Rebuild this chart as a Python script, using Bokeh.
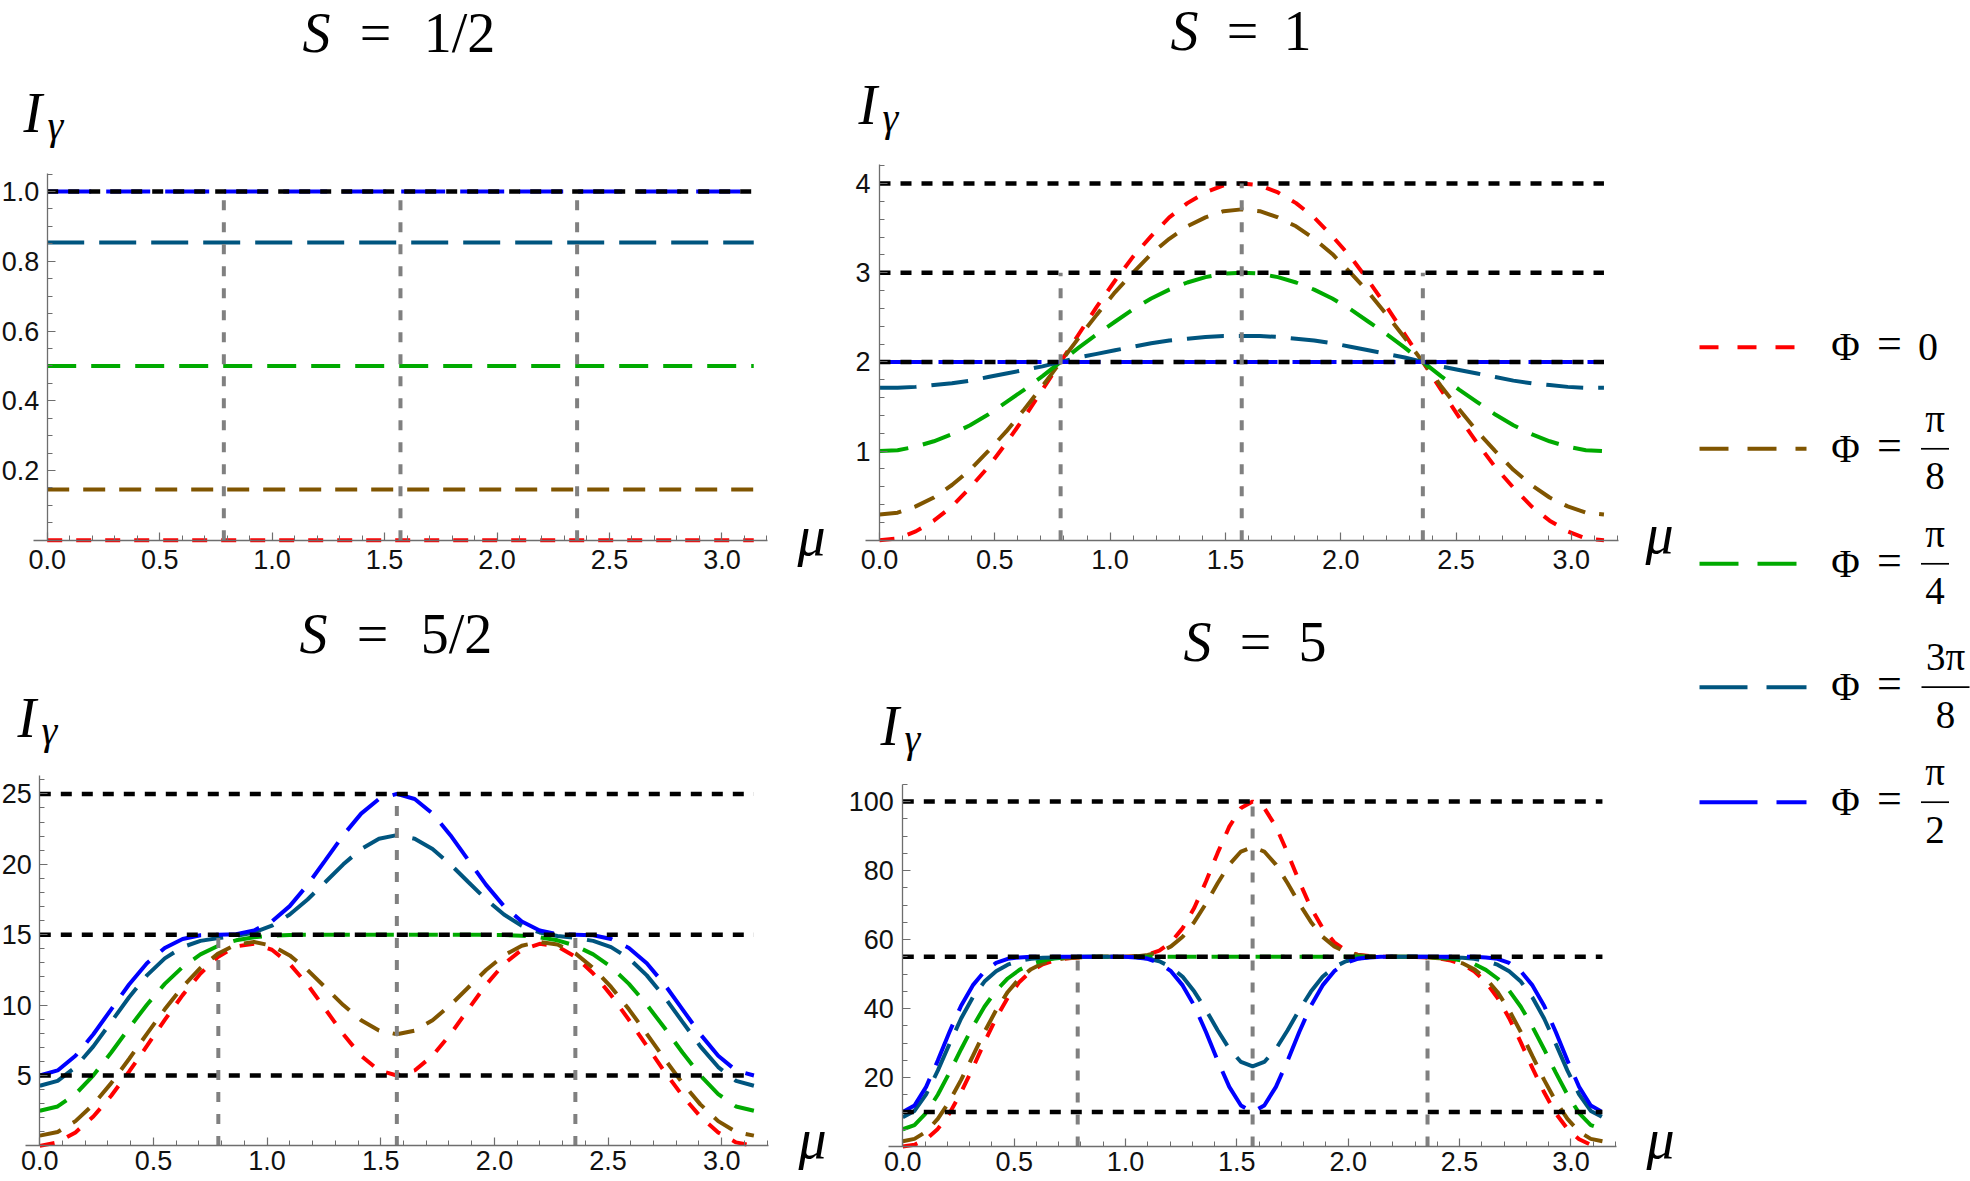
import numpy as np
from bokeh.plotting import figure
from bokeh.models import Label, Range1d, FixedTicker, NumeralTickFormatter
from bokeh.layouts import row, column
from bokeh.core.properties import value
from bokeh.embed import file_html
from bokeh.resources import INLINE

PI = np.pi
# ---------------- data ----------------
MU_FLAT = [0.0, PI]
MU40 = np.linspace(0, PI, 41)
MU60 = np.linspace(0, PI, 61)

# S = 1/2 (constant curves)
S12_r = [0.0, 0.0]
S12_b = [0.146, 0.146]
S12_g = [0.5, 0.5]
S12_t = [0.854, 0.854]
S12_u = [1.0, 1.0]

# S = 1
S1_r = [0.00,0.02,0.10,0.22,0.38,0.59,0.82,1.09,1.38,1.69,2.00,2.31,2.62,2.91,3.18,3.41,3.62,3.78,3.90,3.98,4.00,
        3.98,3.90,3.78,3.62,3.41,3.18,2.91,2.62,2.31,2.00,1.69,1.38,1.09,0.82,0.59,0.38,0.22,0.10,0.02,0.00]
S1_b = [0.29,0.31,0.38,0.48,0.62,0.79,1.00,1.22,1.47,1.73,2.00,2.27,2.53,2.78,3.00,3.21,3.38,3.52,3.62,3.69,3.71,
        3.69,3.62,3.52,3.38,3.21,3.00,2.78,2.53,2.27,2.00,1.73,1.47,1.22,1.00,0.79,0.62,0.48,0.38,0.31,0.29]
S1_g = [1.00,1.01,1.05,1.11,1.19,1.29,1.41,1.55,1.69,1.84,2.00,2.16,2.31,2.45,2.59,2.71,2.81,2.89,2.95,2.99,3.00,
        2.99,2.95,2.89,2.81,2.71,2.59,2.45,2.31,2.16,2.00,1.84,1.69,1.55,1.41,1.29,1.19,1.11,1.05,1.01,1.00]
S1_t = [1.71,1.71,1.72,1.74,1.76,1.79,1.83,1.87,1.91,1.95,2.00,2.05,2.09,2.13,2.17,2.21,2.24,2.26,2.28,2.29,2.29,
        2.29,2.28,2.26,2.24,2.21,2.17,2.13,2.09,2.05,2.00,1.95,1.91,1.87,1.83,1.79,1.76,1.74,1.72,1.71,1.71]
S1_u = [2.0, 2.0]

# S = 5/2
S52_r = [0.00,0.25,0.96,2.09,3.56,5.27,7.10,8.95,10.71,12.24,13.44,14.17,14.35,13.93,12.92,11.45,9.70,7.93,6.40,5.36,5.00,
         5.36,6.40,7.93,9.70,11.45,12.92,13.93,14.35,14.17,13.44,12.24,10.71,8.95,7.10,5.27,3.56,2.09,0.96,0.25,0.00]
S52_b = [0.73,0.99,1.76,2.95,4.46,6.17,7.96,9.70,11.29,12.64,13.67,14.30,14.49,14.22,13.53,12.49,11.25,10.00,8.92,8.19,7.93,
         8.19,8.92,10.00,11.25,12.49,13.53,14.22,14.49,14.30,13.67,12.64,11.29,9.70,7.96,6.17,4.46,2.95,1.76,0.99,0.73]
S52_g = [2.50,2.80,3.68,5.01,6.63,8.37,10.03,11.51,12.71,13.60,14.22,14.60,14.82,14.93,14.98,14.99,15.00,15.00,15.00,15.00,15.00,
         15.00,15.00,15.00,15.00,14.99,14.98,14.93,14.82,14.60,14.22,13.60,12.71,11.51,10.03,8.37,6.63,5.01,3.68,2.80,2.50]
S52_t = [4.27,4.62,5.60,7.07,8.81,10.56,12.11,13.32,14.12,14.56,14.77,14.91,15.16,15.64,16.43,17.50,18.74,20.00,21.08,21.81,22.07,
         21.81,21.08,20.00,18.74,17.50,16.43,15.64,15.16,14.91,14.77,14.56,14.12,13.32,12.11,10.56,8.81,7.07,5.60,4.62,4.27]
S52_u = [5.00,5.36,6.40,7.93,9.70,11.46,12.97,14.06,14.70,14.96,15.00,15.04,15.30,15.94,17.03,18.54,20.30,22.07,23.60,24.64,25.00,
         24.64,23.60,22.07,20.30,18.54,17.03,15.94,15.30,15.04,15.00,14.96,14.70,14.06,12.97,11.46,9.70,7.93,6.40,5.36,5.00]

# S = 5
S5_r = [0.0,0.5,2.1,5.1,9.6,15.7,22.7,30.2,37.2,43.1,47.7,50.8,52.8,53.9,54.5,54.8,54.9,55.0,55.0,55.0,55.2,
        55.6,56.8,59.2,63.3,69.2,76.8,85.1,92.7,98.1,100.0,98.1,92.7,85.1,76.8,69.2,63.3,59.2,56.8,55.6,55.2,55.0,
        55.0,55.0,54.9,54.8,54.5,53.9,52.8,50.8,47.7,43.1,37.2,30.2,22.7,15.7,9.6,5.1,2.1,0.5,0.0]
S5_b = [1.5,2.2,4.3,8.0,13.1,19.3,26.2,33.2,39.5,44.8,48.7,51.4,53.1,54.1,54.6,54.8,54.9,55.0,55.0,55.0,55.1,
        55.5,56.3,58.0,60.8,65.1,70.4,76.3,81.7,85.5,86.8,85.5,81.7,76.3,70.4,65.1,60.8,58.0,56.3,55.5,55.1,55.0,
        55.0,55.0,54.9,54.8,54.6,54.1,53.1,51.4,48.7,44.8,39.5,33.2,26.2,19.3,13.1,8.0,4.3,2.2,1.5]
S5_g = [5.0,6.2,9.7,15.0,21.4,28.2,34.7,40.5,45.2,48.7,51.2,52.9,53.9,54.5,54.8,54.9,55.0,55.0,55.0,55.0,55.0,
        55.0,55.0,55.0,55.0,55.0,55.0,55.0,55.0,55.0,55.0,55.0,55.0,55.0,55.0,55.0,55.0,55.0,55.0,55.0,55.0,55.0,
        55.0,55.0,55.0,54.9,54.8,54.5,53.9,52.9,51.2,48.7,45.2,40.5,34.7,28.2,21.4,15.0,9.7,6.2,5.0]
S5_t = [8.5,10.3,15.1,22.0,29.7,37.1,43.2,47.8,50.8,52.7,53.8,54.4,54.7,54.8,54.9,55.0,55.0,55.0,55.0,55.0,54.9,
        54.5,53.7,52.0,49.2,44.9,39.6,33.7,28.3,24.5,23.2,24.5,28.3,33.7,39.6,44.9,49.2,52.0,53.7,54.5,54.9,55.0,
        55.0,55.0,55.0,55.0,54.9,54.8,54.7,54.4,53.8,52.7,50.8,47.8,43.2,37.1,29.7,22.0,15.1,10.3,8.5]
S5_u = [10.0,11.9,17.3,24.9,33.2,40.8,46.7,50.8,53.2,54.4,54.8,55.0,55.0,55.0,55.0,55.0,55.0,55.0,55.0,55.0,54.8,
        54.4,53.2,50.8,46.7,40.8,33.2,24.9,17.3,11.9,10.0,11.9,17.3,24.9,33.2,40.8,46.7,50.8,53.2,54.4,54.8,55.0,
        55.0,55.0,55.0,55.0,55.0,55.0,55.0,55.0,54.8,54.4,53.2,50.8,46.7,40.8,33.2,24.9,17.3,11.9,10.0]

# reference levels (black dotted) and vertical guides (grey dashed)
LEV_S12 = [1.0]
LEV_S1 = [2.0, 3.0, 4.0]
LEV_S52 = [5.0, 15.0, 25.0]
LEV_S5 = [10.0, 55.0, 100.0]
GUIDE_X = [PI/4, PI/2, 3*PI/4]
GUIDE_TOP_S12 = [1.0, 1.0, 1.0]
GUIDE_TOP_S1 = [3.0, 4.0, 3.0]
GUIDE_TOP_S52 = [15.0, 25.0, 15.0]
GUIDE_TOP_S5 = [55.0, 100.0, 55.0]

# ticks
X_TICKS = [0.0, 0.5, 1.0, 1.5, 2.0, 2.5, 3.0]
X_LABELS = ["0.0", "0.5", "1.0", "1.5", "2.0", "2.5", "3.0"]
X_MINOR = [round(0.1*k, 1) for k in range(33)]
Y_TICKS_S12 = [0.2, 0.4, 0.6, 0.8, 1.0]
Y_LABELS_S12 = ["0.2", "0.4", "0.6", "0.8", "1.0"]
Y_MINOR_S12 = [round(0.05*k, 2) for k in range(22)]
Y_TICKS_S1 = [1, 2, 3, 4]
Y_LABELS_S1 = ["1", "2", "3", "4"]
Y_MINOR_S1 = [round(0.2*k, 1) for k in range(22)]
Y_TICKS_S52 = [5, 10, 15, 20, 25]
Y_LABELS_S52 = ["5", "10", "15", "20", "25"]
Y_MINOR_S52 = list(range(27))
Y_TICKS_S5 = [20, 40, 60, 80, 100]
Y_LABELS_S5 = ["20", "40", "60", "80", "100"]
Y_MINOR_S5 = list(range(0, 106, 5))

LEGEND_NUM = ["0", "π", "π", "3π", "π"]
LEGEND_DEN = ["", "8", "4", "8", "2"]

COLORS = ["#ff0000", "#805500", "#00aa00", "#00557f", "#0000ff"]
DASHES = ["15 14", "22 14", "29 15", "37 15", "44 15"]
LEG_DASHES = ["19 19", "29 19", "39 19", "48 19", "58 19"]
SERIF = "Liberation Serif"
SANS = "Liberation Sans"
AXIS_GRAY = "#6e6e6e"
XMAX = 3.2044
BASE_FIX = 0.35   # shift so that the given y is the glyph baseline


def panel(ox, oy, w, h, X0, ux, Y0, uy, ymax, yt, ylab, ymin_t, series, mu, levels,
          guide_top, title, title_pos, ylab_pos, mu_pos, xstand, ystand, yfmt):
    xr = Range1d((ox - X0) / ux, (ox + w - X0) / ux)
    yr = Range1d((Y0 - (oy + h)) / uy, (Y0 - oy) / uy)
    p = figure(width=w, height=h, x_range=xr, y_range=yr,
               toolbar_location=None, output_backend="svg",
               min_border=0, min_border_left=0, min_border_right=0,
               min_border_top=0, min_border_bottom=0)
    p.outline_line_color = None
    p.xgrid.visible = False
    p.ygrid.visible = False
    p.background_fill_color = "white"
    p.border_fill_color = "white"
    for (xs, ys), c, d in zip(zip(mu, series), COLORS, DASHES):
        p.line(xs, ys, line_color=c, line_width=4, line_dash=d)
    p.multi_line([[0.0, PI] for _ in levels], [[lv, lv] for lv in levels],
                 line_color="black", line_width=4.5, line_dash="11 10")
    p.multi_line([[gx, gx] for gx in GUIDE_X], [[0.0, gt] for gt in guide_top],
                 line_color="#808080", line_width=4, line_dash="10 12")
    xa, ya = p.xaxis[0], p.yaxis[0]
    xa.fixed_location = 0
    ya.fixed_location = 0
    xa.bounds = (-14.0 / ux, XMAX)
    ya.bounds = (0, ymax)
    xa.ticker = FixedTicker(ticks=X_TICKS, minor_ticks=X_MINOR)
    xa.formatter = NumeralTickFormatter(format="0.0")
    xa.major_label_overrides = {t: l for t, l in zip(X_TICKS, X_LABELS)}
    ya.ticker = FixedTicker(ticks=yt, minor_ticks=ymin_t)
    if yfmt:
        ya.formatter = NumeralTickFormatter(format=yfmt)
    ya.major_label_overrides = {t: l for t, l in zip(yt, ylab)}
    for ax in (xa, ya):
        ax.axis_line_color = AXIS_GRAY
        ax.axis_line_width = 1.3
        ax.major_tick_line_color = AXIS_GRAY
        ax.minor_tick_line_color = AXIS_GRAY
        ax.major_tick_line_width = 1.2
        ax.minor_tick_line_width = 1.0
        ax.major_tick_in = 8
        ax.major_tick_out = 0
        ax.minor_tick_in = 5
        ax.minor_tick_out = 0
        ax.major_label_text_font = SANS
        ax.major_label_text_font_size = "27px"
        ax.major_label_text_color = "#111111"
    xa.major_label_standoff = xstand
    ya.major_label_standoff = ystand

    def txt(px, py, text, size, style="normal", align="left"):
        py = py - BASE_FIX * size
        p.add_layout(Label(x=(px - X0) / ux, y=(Y0 - py) / uy, text=text,
                           text_font=SERIF, text_font_size="%dpx" % size, text_font_style=style,
                           text_align=align, text_baseline="alphabetic", text_color="black"))
    sx, eqx, vx, by = title_pos
    txt(sx, by, "S", 56, "italic", "right")
    txt(eqx, by, "=", 56, "normal", "center")
    txt(vx, by, title, 56, "normal", "center")
    ix, iy = ylab_pos
    txt(ix, iy, "I", 56, "italic", "left")
    txt(ix + 24, iy + 7, "γ", 40, "italic", "left")
    mx, my = mu_pos
    txt(mx, my, "μ", 56, "italic", "left")
    return p


p1 = panel(0, 0, 848, 598, 46.7, 224.9, 539.8, 348.8, 1.053, Y_TICKS_S12, Y_LABELS_S12, Y_MINOR_S12,
           [S12_r, S12_b, S12_g, S12_t, S12_u], [MU_FLAT]*5, LEV_S12, GUIDE_TOP_S12,
           "1/2", (330, 375, 459, 52), (23, 132), (797, 555), 10, 8, "0.0")
p2 = panel(848, 0, 840, 598, 879, 230.6, 539.8, 89.2, 4.21, Y_TICKS_S1, Y_LABELS_S1, Y_MINOR_S1,
           [S1_r, S1_b, S1_g, S1_t, S1_u], [MU40, MU40, MU40, MU40, MU_FLAT], LEV_S1, GUIDE_TOP_S1,
           "1", (1198, 1242, 1297, 50), (858, 124), (1645, 553), 10, 9, None)
p3 = panel(0, 598, 848, 583, 39.3, 227.3, 1145.4, 14.08, 26.3, Y_TICKS_S52, Y_LABELS_S52, Y_MINOR_S52,
           [S52_r, S52_b, S52_g, S52_t, S52_u], [MU40]*5, LEV_S52, GUIDE_TOP_S52,
           "5/2", (327, 372, 456, 653), (17, 737), (798, 1158), 5, 8, None)
p4 = panel(848, 598, 840, 583, 902.3, 222.7, 1146, 3.45, 104.9, Y_TICKS_S5, Y_LABELS_S5, Y_MINOR_S5,
           [S5_r, S5_b, S5_g, S5_t, S5_u], [MU60]*5, LEV_S5, GUIDE_TOP_S5,
           "5", (1211, 1255, 1312, 661), (880, 745), (1646, 1158), 5, 9, None)

# ---------------- legend ----------------
LOX = 1688
LW, LH = 282, 1181
pl = figure(width=LW, height=LH, x_range=Range1d(LOX, LOX + LW), y_range=Range1d(LH, 0),
            toolbar_location=None, output_backend="svg", min_border=0,
            x_axis_location=None, y_axis_location=None)
pl.outline_line_color = None
pl.xgrid.visible = False
pl.ygrid.visible = False
ROWS = [346.7, 448.3, 563.3, 686.7, 801.7]
for i, ry in enumerate(ROWS):
    pl.line([1699, 1806], [ry, ry], line_color=COLORS[i], line_width=4, line_dash=LEG_DASHES[i])


def ltext(xs, ys, texts, size):
    pl.text(x=xs, y=[y - BASE_FIX * size for y in ys], text=texts, text_font=value(SERIF),
            text_font_size="%dpx" % size, text_align="center", text_baseline="alphabetic",
            text_color="black")


ltext([1845]*5, [ry + 13 for ry in ROWS], ["Φ"]*5, 39)
ltext([1889]*5, [ry + 12 for ry in ROWS], ["="]*5, 44)
ltext([1927.5], [ROWS[0] + 13.5], [LEGEND_NUM[0]], 40)
cxs = [1934.5, 1934.5, 1945, 1934.5]
halfs = [14, 14, 24, 14]
frows = ROWS[1:]
ltext(cxs, [ry - 17 for ry in frows], LEGEND_NUM[1:], 39)
ltext(cxs, [ry + 41 for ry in frows], LEGEND_DEN[1:], 39)
pl.segment(x0=[c - h for c, h in zip(cxs, halfs)], y0=frows,
           x1=[c + h for c, h in zip(cxs, halfs)], y1=frows, line_color="black", line_width=1.7)

layout = row(column(p1, p3), column(p2, p4), pl)
open("out.html", "w").write(file_html(layout, INLINE))
